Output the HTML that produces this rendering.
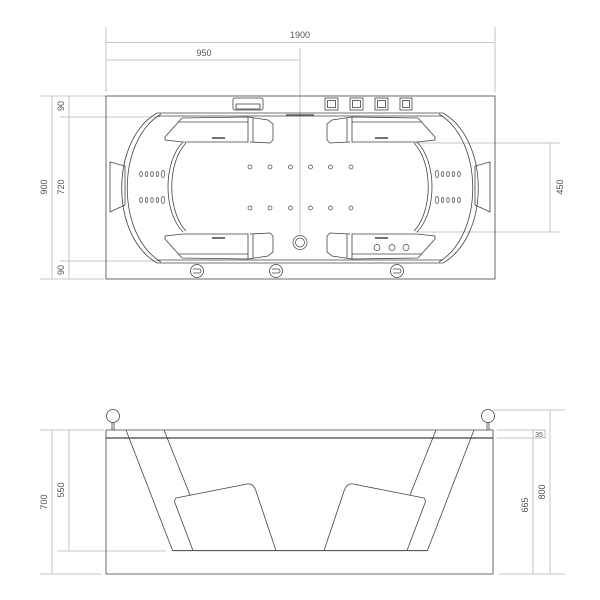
<!DOCTYPE html>
<html><head><style>body{margin:0;background:#fff}svg{display:block}svg path,svg polygon,svg rect,svg circle,svg ellipse,svg line{fill:none}</style></head><body>
<svg width="600" height="600" viewBox="0 0 600 600" xmlns="http://www.w3.org/2000/svg" font-family="Liberation Sans, sans-serif" font-size="9" fill="none">
<g stroke="#b5b5b5" stroke-width="0.8" fill="none">
<line x1="106" y1="27" x2="106" y2="92"/><line x1="495" y1="27" x2="495" y2="92"/>
<line x1="106" y1="42.5" x2="495" y2="42.5"/>
<line x1="106" y1="60" x2="300" y2="60"/>
<line x1="300" y1="48" x2="300" y2="234"/>
<line x1="52" y1="96" x2="52" y2="279"/><line x1="69" y1="96" x2="69" y2="279"/>
<line x1="40" y1="96" x2="106" y2="96"/><line x1="40" y1="279" x2="104" y2="279"/>
<line x1="60" y1="117" x2="160" y2="117"/><line x1="60" y1="261" x2="160" y2="261"/>
<line x1="550" y1="143" x2="550" y2="232"/>
<line x1="415" y1="143" x2="560" y2="143"/><line x1="415" y1="232" x2="560" y2="232"/>
<line x1="52" y1="430" x2="52" y2="574"/><line x1="69" y1="430" x2="69" y2="551"/>
<line x1="40" y1="430" x2="104" y2="430"/><line x1="57" y1="551" x2="166" y2="551"/>
<line x1="40" y1="574" x2="102" y2="574"/>
<line x1="550" y1="410" x2="550" y2="574"/><line x1="533" y1="438" x2="533" y2="574"/>
<line x1="493" y1="410" x2="565" y2="410"/>
<line x1="497" y1="430" x2="546" y2="430"/><line x1="497" y1="438" x2="546" y2="438"/>
<line x1="499" y1="574" x2="565" y2="574"/>
<rect x="533" y="430" width="12" height="8"/>
</g>
<g fill="#555" stroke="none">
<text x="300" y="38" text-anchor="middle">1900</text>
<text x="204" y="56" text-anchor="middle">950</text>
<text transform="translate(47,187) rotate(-90)" text-anchor="middle">900</text>
<text transform="translate(64,187) rotate(-90)" text-anchor="middle">720</text>
<text transform="translate(64,106) rotate(-90)" text-anchor="middle">90</text>
<text transform="translate(64,270) rotate(-90)" text-anchor="middle">90</text>
<text transform="translate(563,187) rotate(-90)" text-anchor="middle">450</text>
<text transform="translate(47,502) rotate(-90)" text-anchor="middle">700</text>
<text transform="translate(64,490) rotate(-90)" text-anchor="middle">550</text>
<text transform="translate(528,505) rotate(-90)" text-anchor="middle">665</text>
<text transform="translate(545,492) rotate(-90)" text-anchor="middle">800</text>
<text x="539" y="437" text-anchor="middle" font-size="7">35</text>
</g>
<g stroke="#444" stroke-width="0.8" fill="none">
<rect x="106" y="96" width="389" height="183"/>
<path d="M157 113 C110 140 110 236 157 263 M443 113 C490 140 490 236 443 263"/>
<path d="M161 114 C116 141 116 235 161 262 M439 114 C484 141 484 235 439 262"/>
<line x1="157" y1="113" x2="443" y2="113"/><line x1="157" y1="116" x2="443" y2="116"/>
<line x1="157" y1="263" x2="443" y2="263"/><line x1="157" y1="260" x2="443" y2="260"/>
<path d="M183 142 C163 162 163 212 183 232 M417 142 C437 162 437 212 417 232"/>
<path d="M186 143 C167 163 167 211 186 231 M414 143 C433 163 433 211 414 231"/>
<g id="seat" fill="none">
<path d="M165 137 L182 118 L248 117 L248 142 L183 142 L165 140 Z"/>
<path d="M248 117 L268 120 L273 124 L273 140 L270 143 L250 142"/>
<line x1="253" y1="118" x2="253" y2="142"/>
<line x1="178" y1="122" x2="248" y2="122"/>
<line x1="212" y1="138" x2="225" y2="138" stroke-width="1.5"/>
</g>
<use href="#seat" transform="translate(600,0) scale(-1,1)"/>
<use href="#seat" transform="translate(0,376) scale(1,-1)"/>
<use href="#seat" transform="translate(600,376) scale(-1,-1)"/>
<polygon points="110,162 125,166 125,205 110,212"/>
<polygon points="490,162 475,166 475,205 490,212"/>
<rect x="233" y="98" width="30" height="12" rx="2"/>
<rect x="236" y="104" width="24" height="5"/>
<rect x="325" y="98" width="13" height="12"/><rect x="327.5" y="100.5" width="8" height="7"/>
<rect x="350" y="98" width="13" height="12"/><rect x="352.5" y="100.5" width="8" height="7"/>
<rect x="375" y="98" width="13" height="12"/><rect x="377.5" y="100.5" width="8" height="7"/>
<rect x="400" y="98" width="12" height="12"/><rect x="402.5" y="100.5" width="7" height="7"/>
<line x1="286" y1="115" x2="314" y2="115" stroke-width="1.3"/>
<g stroke-width="0.7" fill="none">
<circle cx="250" cy="167" r="2"/><circle cx="270" cy="167" r="2"/><circle cx="290.5" cy="167" r="2"/><circle cx="310.5" cy="167" r="2"/><circle cx="330.5" cy="167" r="2"/><circle cx="351" cy="167" r="2"/>
<circle cx="250" cy="208" r="2"/><circle cx="270" cy="208" r="2"/><circle cx="290.5" cy="208" r="2"/><circle cx="310.5" cy="208" r="2"/><circle cx="330.5" cy="208" r="2"/><circle cx="351" cy="208" r="2"/>
<g id="jets" fill="none">
<ellipse cx="141" cy="174" rx="1.3" ry="2.4"/><ellipse cx="146.5" cy="174" rx="1.3" ry="2.4"/><ellipse cx="152" cy="174" rx="1.3" ry="2.4"/><ellipse cx="157.5" cy="174" rx="1.3" ry="2.4"/><ellipse cx="163" cy="174" rx="1.8" ry="3.5"/>
<ellipse cx="141" cy="200" rx="1.3" ry="2.4"/><ellipse cx="146.5" cy="200" rx="1.3" ry="2.4"/><ellipse cx="152" cy="200" rx="1.3" ry="2.4"/><ellipse cx="157.5" cy="200" rx="1.3" ry="2.4"/><ellipse cx="163" cy="200" rx="1.8" ry="3.5"/>
</g>
<use href="#jets" transform="translate(600,0) scale(-1,1)"/>
<circle cx="300" cy="242.5" r="7"/><circle cx="300" cy="242.5" r="4.5"/>
<circle cx="377" cy="247.5" r="3"/><circle cx="392" cy="247.5" r="3"/><circle cx="406" cy="247.5" r="3"/>
</g>
<g id="knob" fill="none"><circle cx="197" cy="271" r="6.5"/><path d="M193 269 h6 a2 2 0 0 1 0 4 h-6"/></g>
<use href="#knob" transform="translate(79,0)"/>
<use href="#knob" transform="translate(200,0)"/>
</g>
<g stroke="#444" stroke-width="0.8" fill="none">
<path d="M106 574 V430 H493 V574 Z"/>
<line x1="106" y1="438" x2="493" y2="438" stroke-width="1.2"/>
<circle cx="113" cy="416" r="6.5"/><line x1="112" y1="422" x2="112" y2="430"/><line x1="114" y1="422" x2="114" y2="430"/>
<circle cx="488" cy="416" r="6.5"/><line x1="487" y1="422" x2="487" y2="430"/><line x1="489" y1="422" x2="489" y2="430"/>
<g id="half" fill="none">
<path d="M126 430 L172.6 550.6"/>
<path d="M164 430 L190 495"/>
<path d="M176 498 L247 484 Q253 483 255.6 490 L276 550.6 M176 498 Q174 500 175 503 L193 550.6"/>
</g>
<use href="#half" transform="translate(600,0) scale(-1,1)"/>
<line x1="172.6" y1="550.6" x2="427.4" y2="550.6" stroke-width="1"/>
</g>
</svg>
</body></html>
